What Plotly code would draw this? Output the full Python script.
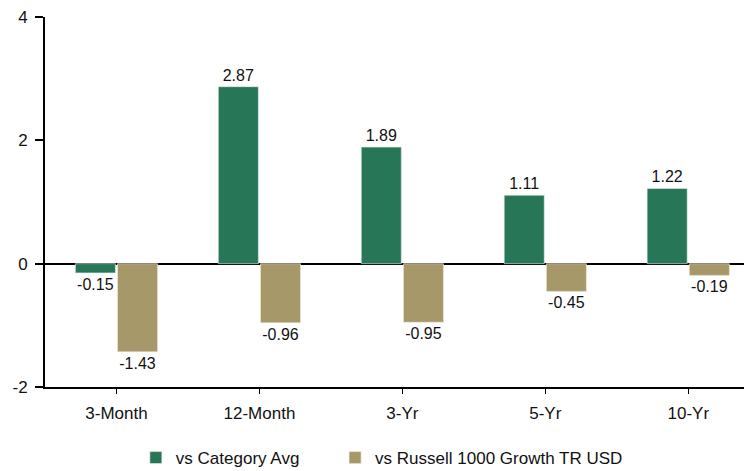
import plotly.graph_objects as go

periods = ["3-Month", "12-Month", "3-Yr", "5-Yr", "10-Yr"]
vs_category = [-0.15, 2.87, 1.89, 1.11, 1.22]
vs_russell = [-1.43, -0.96, -0.95, -0.45, -0.19]
y_ticks = [-2, 0, 2, 4]

green = "#277657"
tan = "#A69869"
font = "Liberation Sans, Arial, sans-serif"

fig = go.Figure()
fig.add_trace(go.Bar(
    x=periods, y=vs_category, name="vs Category Avg",
    marker=dict(color=green, line=dict(color="#e8efe9", width=0.6)),
    text=[f"{v:.2f}" for v in vs_category], textposition="outside",
    textfont=dict(size=16, color="#111"), cliponaxis=False,
    legend="legend",
))
fig.add_trace(go.Bar(
    x=periods, y=vs_russell, name="vs Russell 1000 Growth TR USD",
    marker=dict(color=tan, line=dict(color="#f0ece0", width=0.6)),
    text=[f"{v:.2f}" for v in vs_russell], textposition="outside",
    textfont=dict(size=16, color="#111"), cliponaxis=False,
    legend="legend2",
))

legend_common = dict(orientation="h", yanchor="middle", y=-0.192, xanchor="left",
                     font=dict(size=17), borderwidth=0, bgcolor="rgba(0,0,0,0)")

fig.update_layout(
    width=744, height=471,
    margin=dict(l=45, r=0, t=17, b=84, autoexpand=False),
    paper_bgcolor="white", plot_bgcolor="white",
    font=dict(family=font, size=17, color="#111"),
    barmode="group", bargap=0.41, bargroupgap=0.05,
    showlegend=True,
    legend=dict(x=0.130, **legend_common),
    legend2=dict(x=0.415, **legend_common),
)
fig.update_xaxes(
    range=[-0.5, 4.39], showline=True, linecolor="black", linewidth=2,
    ticks="outside", ticklen=5, tickwidth=1, tickcolor="black",
    showgrid=False, zeroline=False, ticklabelstandoff=5,
)
fig.update_yaxes(
    range=[-2, 4], tickvals=y_ticks, ticktext=[str(t) for t in y_ticks],
    showline=True, linecolor="black", linewidth=2,
    ticks="outside", ticklen=8, tickwidth=2, tickcolor="black", ticklabelstandoff=4,
    showgrid=False, zeroline=True, zerolinecolor="black", zerolinewidth=2,
)

fig.write_html("out.html")
